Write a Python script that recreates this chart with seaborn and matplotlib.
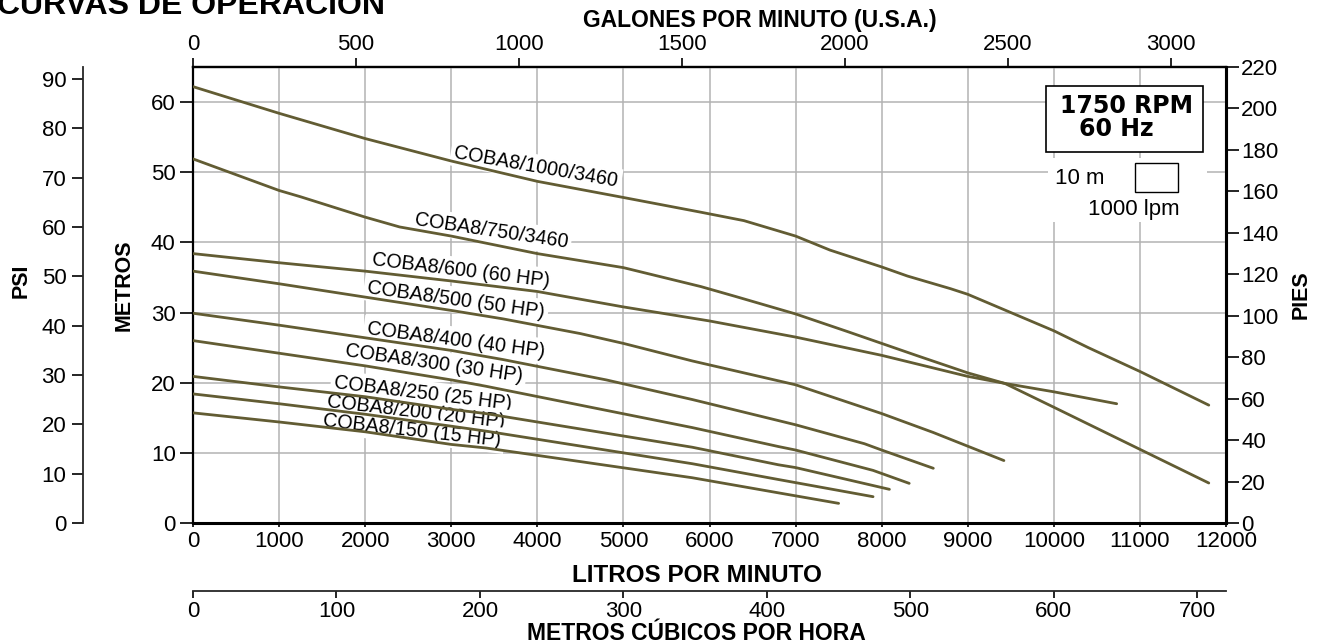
import numpy as np
import pandas as pd
import matplotlib
matplotlib.use("Agg")
import matplotlib.pyplot as plt
import seaborn as sns
from matplotlib import font_manager as fm
from matplotlib.patches import Rectangle

# ---------------- data (litros por minuto, metros) ----------------
curve_names = ["COBA8/1000/3460", "COBA8/750/3460", "COBA8/600 (60 HP)",
               "COBA8/500 (50 HP)", "COBA8/400 (40 HP)", "COBA8/300 (30 HP)",
               "COBA8/250 (25 HP)", "COBA8/200 (20 HP)", "COBA8/150 (15 HP)"]

c1000_x = [0, 1000, 2000, 3000, 4000, 5000, 5900, 6400, 7000, 7400, 8000, 8300, 8800, 9000, 9500, 10000, 10400, 11000, 11800]
c1000_y = [62.2, 58.4, 54.8, 51.6, 48.7, 46.4, 44.3, 43.1, 40.9, 38.9, 36.5, 35.2, 33.4, 32.6, 30.0, 27.4, 25.0, 21.6, 16.8]

c750_x = [0, 1000, 1250, 2000, 2400, 3000, 4000, 5000, 5900, 6300, 7000, 7600, 8000, 8400, 9000, 9430, 10000, 11000, 11800]
c750_y = [51.9, 47.4, 46.5, 43.6, 42.2, 40.9, 38.4, 36.4, 33.7, 32.3, 29.8, 27.3, 25.6, 23.9, 21.4, 19.9, 16.5, 10.5, 5.7]

c600_x = [0, 1000, 2000, 3000, 4000, 5000, 6000, 7000, 8000, 8400, 9000, 9430, 10000, 10730]
c600_y = [38.4, 37.1, 35.9, 34.5, 33.0, 30.8, 28.8, 26.5, 23.9, 22.7, 20.9, 19.9, 18.7, 17.0]

c500_x = [0, 1000, 2000, 3000, 3600, 4500, 5000, 5800, 7000, 8000, 8600, 9420]
c500_y = [35.9, 34.1, 32.2, 30.3, 29.1, 27.0, 25.6, 23.1, 19.7, 15.6, 12.9, 8.9]

c400_x = [0, 1000, 2000, 3000, 3600, 4800, 5800, 6800, 7000, 7800, 8000, 8600]
c400_y = [29.9, 28.2, 26.4, 24.6, 23.3, 20.4, 17.6, 14.6, 14.0, 11.3, 10.4, 7.8]

c300_x = [0, 1000, 2000, 3000, 3400, 5800, 6800, 7000, 7900, 8320]
c300_y = [26.0, 24.2, 22.4, 20.4, 19.5, 13.6, 10.9, 10.4, 7.5, 5.65]

c250_x = [0, 1000, 2000, 3000, 3400, 5800, 6800, 7000, 8090]
c250_y = [20.9, 19.4, 18.0, 16.2, 15.6, 10.8, 8.3, 7.9, 4.8]

c200_x = [0, 1000, 2000, 3000, 3400, 5800, 6800, 7900]
c200_y = [18.4, 17.0, 15.5, 13.8, 13.1, 8.45, 6.2, 3.75]

c150_x = [0, 1000, 2000, 3000, 3400, 5800, 6800, 7500]
c150_y = [15.7, 14.4, 13.0, 11.2, 10.7, 6.45, 4.3, 2.8]

curve_x = [c1000_x, c750_x, c600_x, c500_x, c400_x, c300_x, c250_x, c200_x, c150_x]
curve_y = [c1000_y, c750_y, c600_y, c500_y, c400_y, c300_y, c250_y, c200_y, c150_y]

label_x = [3985, 3462, 3113, 3055, 3055, 2800, 2672, 2591, 2544]
label_y = [50.7, 41.6, 36.0, 31.8, 26.1, 22.7, 18.4, 15.8, 13.2]
label_rot = [-10, -8.5, -7, -8, -7.5, -8.3, -7, -6.7, -6.5]

lpm_ticks = list(range(0, 12001, 1000))
m_ticks = list(range(0, 61, 10))
gpm_ticks = list(range(0, 3001, 500))
ft_ticks = list(range(0, 221, 20))
psi_ticks = list(range(0, 91, 10))
m3h_ticks = list(range(0, 701, 100))

# ---------------- style ----------------
sns.set_theme(style="white")
plt.rcParams["font.family"] = ["Liberation Sans", "DejaVu Sans"]
plt.rcParams["axes.linewidth"] = 1.5

names = {f.name for f in fm.fontManager.ttflist}
if "Liberation Sans Narrow" in names:
    cond = dict(family=["Liberation Sans Narrow", "DejaVu Sans"], fontweight="bold", fontsize=18)
else:
    cond = dict(family=["Liberation Sans", "DejaVu Sans"], fontweight="bold", fontsize=15.5)

LINE = "#625c33"
GRID = "#b3b3b3"
TICK_FS = 16

W, H = 1318, 643
fig = plt.figure(figsize=(W / 100, H / 100), dpi=100)
L, R, T, B = 193, 1226, 67, 523
ax = fig.add_axes([L / W, 1 - B / H, (R - L) / W, (B - T) / H])

rows = []
for n, xs, ys in zip(curve_names, curve_x, curve_y):
    for a, b in zip(xs, ys):
        rows.append((n, a, b))
df = pd.DataFrame(rows, columns=["curve", "lpm", "m"])
sns.lineplot(data=df, x="lpm", y="m", units="curve", estimator=None, sort=False,
             color=LINE, lw=2.0, ax=ax, legend=False, zorder=3)

ax.set_xlim(0, 12000)
ax.set_ylim(0, 65)
ax.set_xticks(lpm_ticks)
ax.set_yticks(m_ticks)
ax.set_xlabel("")
ax.set_ylabel("")
ax.set_axisbelow(True)
ax.grid(True, color=GRID, lw=1.1)
for s in ["bottom", "right"]:
    ax.spines[s].set_linewidth(2.2)
for s in ["left", "top"]:
    ax.spines[s].set_linewidth(1.6)
for s in ax.spines.values():
    s.set_color("black")
ax.tick_params(axis="y", direction="out", length=9.5, width=1.2, pad=3, labelsize=TICK_FS, left=True, colors="black")
ax.tick_params(axis="x", direction="out", length=3, width=1.2, pad=3, labelsize=TICK_FS, bottom=True, colors="black")

# curve labels
for t, x, y, r in zip(curve_names, label_x, label_y, label_rot):
    ax.text(x, y, t, rotation=r, rotation_mode="anchor", ha="center", va="center",
            fontsize=14.2, color="black", zorder=2.5,
            bbox=dict(facecolor="white", edgecolor="none", pad=2.5))

# secondary axes
top = ax.secondary_xaxis("top", functions=(lambda v: v / 3.785411784, lambda v: v * 3.785411784))
top.set_xticks(gpm_ticks)
top.tick_params(direction="out", length=6.5, width=1.2, pad=2, labelsize=TICK_FS, colors="black")
top.spines["top"].set_linewidth(1.6)

right = ax.secondary_yaxis("right", functions=(lambda v: v * 220 / 65, lambda v: v * 65 / 220))
right.set_yticks(ft_ticks)
right.tick_params(direction="out", length=9, width=1.2, pad=2, labelsize=TICK_FS, colors="black")
right.spines["right"].set_linewidth(2.2)

psi = ax.secondary_yaxis((83 - L) / (R - L), functions=(lambda v: v / 0.70307, lambda v: v * 0.70307))
psi.set_yticks(psi_ticks)
psi.tick_params(direction="out", length=8, width=1.2, pad=4, labelsize=TICK_FS, colors="black")
psi.spines["left"].set_linewidth(1.3)

m3h = ax.secondary_xaxis(-(591 - B) / (B - T), functions=(lambda v: v * 0.06, lambda v: v / 0.06))
m3h.set_xticks(m3h_ticks)
m3h.tick_params(direction="out", length=5, width=1.2, pad=2, labelsize=TICK_FS, colors="black")
m3h.spines["bottom"].set_linewidth(1.3)

# legend box (axes fraction)
def axf(px, py):
    return (px - L) / (R - L), (B - py) / (B - T)

x0, y0 = axf(1048, 222)
x1, y1 = axf(1207, 158)
ax.add_patch(Rectangle((x0, y0), x1 - x0, y1 - y0, transform=ax.transAxes,
                       facecolor="white", edgecolor="none", zorder=1.5))
x0, y0 = axf(1046, 152)
x1, y1 = axf(1203, 86)
ax.add_patch(Rectangle((x0, y0), x1 - x0, y1 - y0, transform=ax.transAxes,
                       facecolor="white", edgecolor="black", lw=1.2, zorder=4))
x0, y0 = axf(1135, 192)
x1, y1 = axf(1178, 163)
ax.add_patch(Rectangle((x0, y0), x1 - x0, y1 - y0, transform=ax.transAxes,
                       facecolor="white", edgecolor="black", lw=1.0, zorder=4))
ax.text(*axf(1127, 106), "1750 RPM", transform=ax.transAxes, ha="center", va="center",
        fontsize=17, fontweight="bold", family=["DejaVu Sans"], color="black", zorder=5)
ax.text(*axf(1116, 128.5), "60 Hz", transform=ax.transAxes, ha="center", va="center",
        fontsize=17, fontweight="bold", family=["DejaVu Sans"], color="black", zorder=5)
ax.text(*axf(1055, 179), "10 m", transform=ax.transAxes, ha="left", va="center",
        fontsize=TICK_FS, color="black", zorder=5)
ax.text(*axf(1088, 210), "1000 lpm", transform=ax.transAxes, ha="left", va="center",
        fontsize=TICK_FS, color="black", zorder=5)

# titles
fig.text(-3 / W, 1 - 14 / H, "CURVAS DE OPERACIÓN", ha="left", va="baseline",
         fontsize=23, fontweight="bold", color="black")
fig.text(760 / W, 1 - 20 / H, "GALONES POR MINUTO (U.S.A.)", ha="center", va="center",
         fontsize=16.5, fontweight="bold", color="black")
fig.text(697 / W, 1 - 575 / H, "LITROS POR MINUTO", ha="center", va="center",
         fontsize=17.5, fontweight="bold", color="black")
fig.text(696 / W, 1 - 633 / H, "METROS CÚBICOS POR HORA", ha="center", va="center",
         fontsize=16.5, fontweight="bold", color="black")
fig.text(124.5 / W, 1 - 285 / H, "METROS", rotation=90, ha="center", va="center", color="black", **cond)
fig.text(21 / W, 1 - 281 / H, "PSI", rotation=90, ha="center", va="center", color="black", **cond)
fig.text(1301 / W, 1 - 295 / H, "PIES", rotation=90, ha="center", va="center", color="black", **cond)

fig.savefig("out.png", dpi=100, facecolor="white")
